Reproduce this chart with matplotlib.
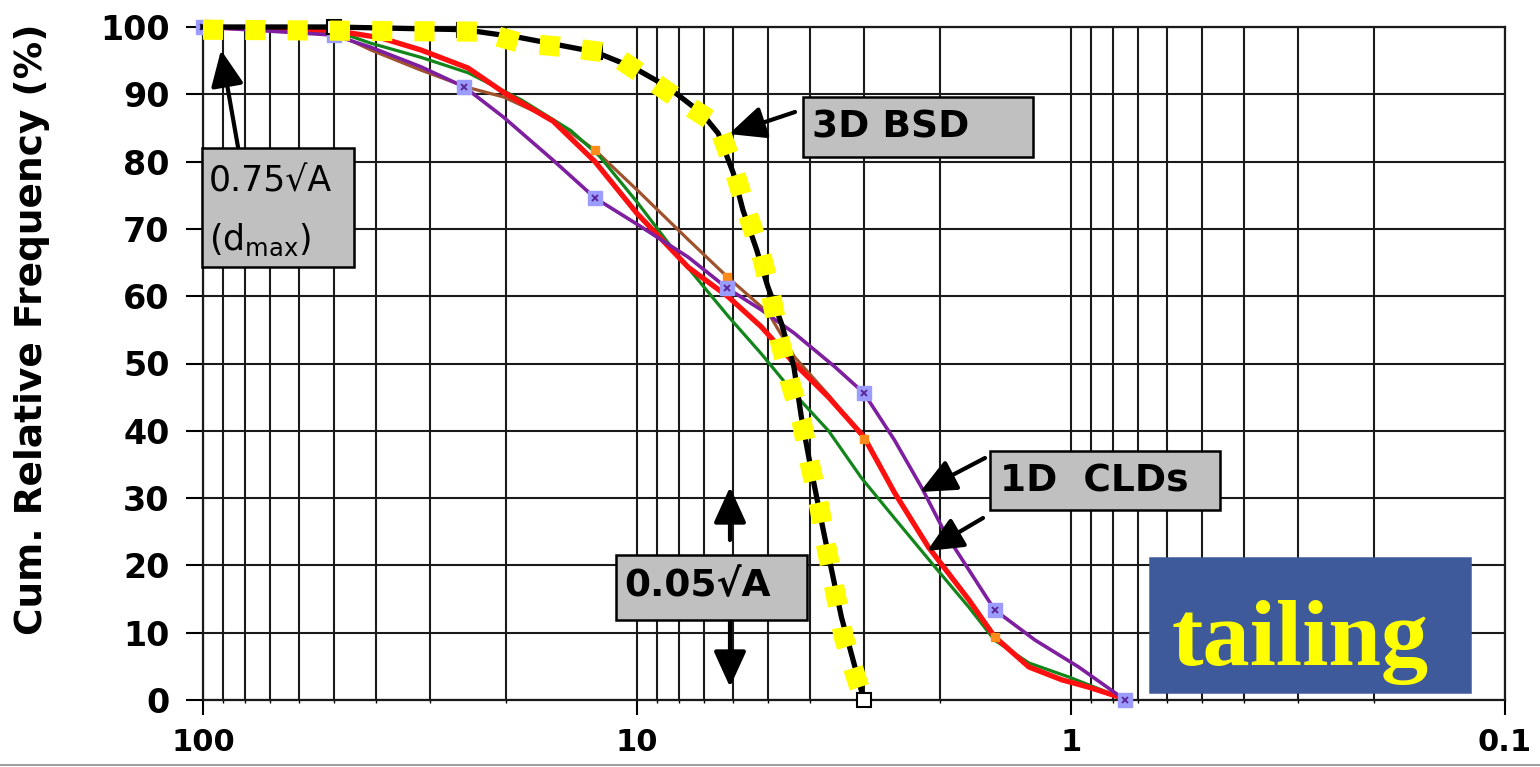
import matplotlib
matplotlib.use("Agg")
import matplotlib.pyplot as plt
from matplotlib.patches import Rectangle, FancyArrowPatch
from matplotlib.lines import Line2D
from matplotlib.ticker import FixedLocator, LogLocator, NullFormatter

W, H = 1540, 767

# ---------------------------------------------------------------------------
# data (particle size in mm, cumulative relative frequency in %)
# ---------------------------------------------------------------------------
SIEVE = [100, 50, 25, 12.5, 6.2, 3.0, 1.5, 0.75]

bsd_size = [100, 50, 25, 18.5, 12.5, 10.2, 8.5, 7.1, 6.5, 6.0, 5.7, 5.3, 5.0,
            4.65, 4.35, 4.18, 3.98, 3.71, 3.38, 3.0]
bsd_cum = [100, 100, 99.6, 98.4, 96.3, 94.0, 91.1, 87.2, 84.2, 78.3, 72.8, 66.9,
           61.5, 56.0, 49.5, 42.0, 34.6, 24.8, 12.3, 0]

# hand-drawn yellow highlight over the 3D BSD
hl_size = [100, 22.9, 18.5, 14.6, 11.5, 9.43, 7.8, 6.5, 6.0, 5.6, 5.18, 4.92,
           4.71, 4.45, 4.18, 4.0, 3.8, 3.66, 3.5, 3.34, 3.13, 3.06]
hl_cum = [99.6, 99.3, 97.6, 97.0, 96.1, 92.4, 88.7, 85.4, 79.2, 72.8, 66.4, 60.5,
          53.9, 47.5, 41.6, 35.2, 28.7, 22.7, 16.3, 9.4, 3.4, 1.5]

purple_size = [100, 50, 41.1, 31.5, 25, 20.3, 15.6, 12.5, 10.0, 7.62, 6.2, 5.18,
               4.34, 3.5, 3.0, 2.55, 2.21, 1.95, 1.5, 1.21, 0.96, 0.75]
purple_cum = [100, 98.8, 97.0, 94.1, 91.1, 86.6, 80.2, 74.6, 70.7, 65.8, 61.2, 58.0,
              54.5, 49.5, 45.6, 38.6, 31.6, 24.8, 13.4, 8.9, 4.9, 0]

red_size = [100, 50, 39.0, 31.5, 24.5, 20.3, 15.6, 12.5, 10.0, 7.62, 6.16, 5.18,
            4.34, 3.62, 3.0, 2.55, 2.13, 1.72, 1.5, 1.25, 1.05, 0.91, 0.77, 0.75]
red_cum = [100, 99.5, 98.4, 96.6, 93.9, 90.3, 86.0, 80.0, 72.3, 64.3, 59.9, 55.5,
           50.0, 45.0, 39.1, 30.8, 22.7, 14.9, 9.4, 4.9, 3.0, 1.9, 0.4, 0]

green_size = [100, 50, 41.1, 31.5, 24.5, 18.5, 14.2, 12.2, 10.0, 8.04, 6.16, 5.18,
              4.34, 3.62, 3.04, 2.55, 2.06, 1.72, 1.5, 1.25, 1.01, 0.85, 0.75]
green_cum = [100, 99.5, 97.6, 95.5, 93.2, 89.2, 84.6, 80.8, 74.0, 66.0, 57.0, 51.5,
             45.5, 40.0, 33.0, 27.0, 19.8, 13.8, 8.9, 5.5, 3.4, 1.5, 0]

brown_size = [100, 50, 41.1, 31.5, 24.5, 20.3, 15.6, 12.5, 10.0, 7.62, 6.2, 4.98,
              4.34, 3.62, 3.0, 2.55, 2.13, 1.72, 1.5, 1.25, 1.05, 0.91, 0.75]
brown_cum = [100, 99.2, 96.6, 93.6, 91.0, 89.6, 86.2, 81.7, 75.8, 68.4, 62.9, 57.5,
             51.0, 45.3, 38.8, 30.8, 22.7, 14.9, 9.4, 4.9, 3.0, 1.9, 0]

xtick_vals = [100, 10, 1, 0.1]
xtick_text = ["100", "10", "1", "0.1"]
ytick_vals = list(range(0, 101, 10))


def marks(sizes, keep=SIEVE):
    return [i for i, s in enumerate(sizes) if s in keep]


def fxy(x, y):
    """image pixel -> figure fraction"""
    return x / W, 1 - y / H


# ---------------------------------------------------------------------------
fig = plt.figure(figsize=(W / 100, H / 100), dpi=100)
ax = fig.add_axes([203 / W, 1 - 700 / H, (1505 - 203) / W, (700 - 27) / H])

ax.set_xscale("log")
ax.set_xlim(100, 0.1)
ax.set_ylim(0, 100)
ax.xaxis.set_major_locator(FixedLocator(xtick_vals))
ax.set_xticklabels(xtick_text)
ax.xaxis.set_minor_locator(LogLocator(base=10, subs=range(2, 10)))
ax.xaxis.set_minor_formatter(NullFormatter())
ax.set_yticks(ytick_vals)

ax.grid(True, which="both", color="#1a1a1a", lw=1.5)
ax.set_axisbelow(True)
for sp in ax.spines.values():
    sp.set_color("#1a1a1a")
    sp.set_linewidth(1.6)

ax.tick_params(axis="y", length=12, width=1.5, pad=12, labelsize=24)
ax.tick_params(axis="x", which="major", length=11, width=1.5, pad=9, labelsize=22)
ax.tick_params(axis="x", which="minor", length=2, width=1)
plt.setp(ax.get_xticklabels() + ax.get_yticklabels(), fontweight="bold")

# 1D CLDs
ax.plot(brown_size, brown_cum, color="#A0522D", lw=2.3, zorder=3, clip_on=False)
ax.plot(green_size, green_cum, color="#12861B", lw=2.3, zorder=4, clip_on=False)
ax.plot(red_size, red_cum, color="#FF1010", lw=3.8, zorder=5, clip_on=False)
ax.plot(brown_size, brown_cum, ls="none", marker="s", ms=6, color="#FF8C1A",
        markevery=marks(brown_size, [12.5, 6.2, 3.0, 1.5]), zorder=6)
ax.plot(purple_size, purple_cum, color="#7E1FA0", lw=2.6, zorder=6, clip_on=False,
        marker="s", ms=10, mfc="#9C9CFF", mec="#9C9CFF",
        markevery=marks(purple_size))
ax.plot(purple_size, purple_cum, ls="none", marker="x", ms=4, mew=1.4,
        color="#5A2A9A", markevery=marks(purple_size), zorder=7, clip_on=False)

# 3D BSD + yellow highlight
ax.plot(bsd_size, bsd_cum, color="black", lw=3.8, zorder=8, clip_on=False,
        marker="s", ms=10, mfc="white", mec="black", mew=1.5,
        markevery=marks(bsd_size, [50, 25, 12.5, 3.0]))
ax.plot(hl_size, hl_cum, color="#FFFF00", lw=14.5, dashes=(1, 1.1),
        dash_capstyle="butt", zorder=9, clip_on=False)

fig.text(*fxy(32, 329), "Cum. Relative Frequency (%)", rotation=90,
         ha="center", va="center", fontsize=27, fontweight="bold")

# ---------------------------------------------------------------------------
# call-out boxes and arrows
# ---------------------------------------------------------------------------
def box(x0, y0, x1, y1, fc="#C0C0C0", ec="black"):
    fig.add_artist(Rectangle(fxy(x0, y1), (x1 - x0) / W, (y1 - y0) / H,
                             transform=fig.transFigure, fc=fc, ec=ec, lw=1.8,
                             zorder=10))


def arrow(tail, tip):
    fig.add_artist(FancyArrowPatch(fxy(*tail), fxy(*tip), transform=fig.transFigure,
                                   arrowstyle="-|>,head_length=1.1,head_width=0.5",
                                   mutation_scale=20, lw=3, color="black",
                                   shrinkA=0, shrinkB=0, zorder=11))


box(202, 148, 354, 267)
fig.text(*fxy(209, 181), "0.75√A", ha="left", va="center", fontsize=25, zorder=12)
fig.text(*fxy(209, 240), r"(d$_{\mathregular{max}}$)", ha="left", va="center",
         fontsize=25, zorder=12)
arrow((238, 147), (221, 50))

box(803, 97, 1033, 157)
fig.text(*fxy(812, 127), "3D BSD", ha="left", va="center", fontsize=27,
         fontweight="bold", zorder=12)
arrow((795, 112), (729, 134))

box(990, 451, 1220, 510)
fig.text(*fxy(1000, 481), "1D  CLDs", ha="left", va="center", fontsize=27,
         fontweight="bold", zorder=12)
arrow((985, 458), (920, 492))
arrow((983, 518), (927, 551))

box(616, 555, 807, 620)
fig.text(*fxy(624, 586), "0.05√A", ha="left", va="center", fontsize=27,
         fontweight="bold", zorder=12)
arrow((730, 540), (730, 487))
arrow((730, 622), (730, 687))

box(1150, 558, 1470, 692, fc="#3F5A9B", ec="#3F5A9B")
fig.text(*fxy(1300, 665), "tailing", ha="center", va="baseline", fontsize=68,
         fontweight="bold", family="Liberation Serif", color="#FFFF00", zorder=12)

fig.add_artist(Line2D([0, 1], [1 - 765 / H] * 2, transform=fig.transFigure,
                      color="#a0a0a0", lw=1.5))

fig.savefig("out.png", dpi=100)
